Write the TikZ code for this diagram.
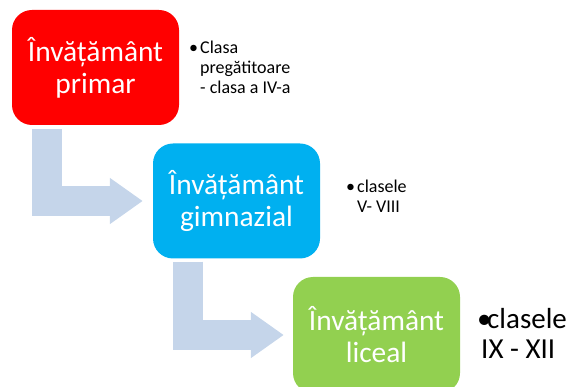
\documentclass[tikz,border=0pt]{standalone}
\usepackage{fontspec}
\setmainfont{Carlito}
\usetikzlibrary{arrows.meta}
\definecolor{primred}{HTML}{FF0000}
\definecolor{gimnblue}{HTML}{00B0F0}
\definecolor{licgreen}{HTML}{92D050}
\definecolor{flowblue}{HTML}{C5D5EA}
\begin{document}
\begin{tikzpicture}[x=1pt, y=-1pt,
  level/.style={rounded corners=20pt, minimum width=167pt, minimum height=115pt, inner sep=0pt, text=white, align=center, font=\fontsize{29.4}{32}\selectfont},
  note/.style={anchor=north west, inner sep=0pt, align=left, font=\fontsize{18}{19.8}\selectfont},
  bignote/.style={note, font=\fontsize{29}{30}\selectfont},
  flow/.style={draw=flowblue, line width=30pt, -{Triangle[length=33pt, width=44pt]}}]
\useasboundingbox (0,0) rectangle (571,387);
\node[level, fill=primred] (prim) at (95.5,67.5) {Învățământ\\primar};
\node[level, fill=gimnblue] (gimn) at (236.5,201) {Învățământ\\gimnazial};
\node[level, fill=licgreen, minimum height=116pt] (lic) at (376.5,335) {Învățământ\\liceal};
\draw[flow] ([xshift=35pt, yshift=-4pt]prim.south west) |- ([xshift=-10pt]gimn.west);
\draw[flow] ([xshift=35pt, yshift=-3pt]gimn.south west) |- ([xshift=-9pt]lic.west);
\node[note] (primnote) at (189,41) {\makebox[11pt][l]{•}Clasa\\\hspace*{11pt}pregătitoare\\\hspace*{11pt}- clasa a IV-a};
\node[note] (gimnnote) at (346,180) {\makebox[11pt][l]{•}clasele\\\hspace*{11pt}V- VIII};
\node[bignote] (licnote) at (477,308) {\makebox[10pt][l]{•}clasele\\\hspace*{4pt}IX - XII};
\end{tikzpicture}
\end{document}
